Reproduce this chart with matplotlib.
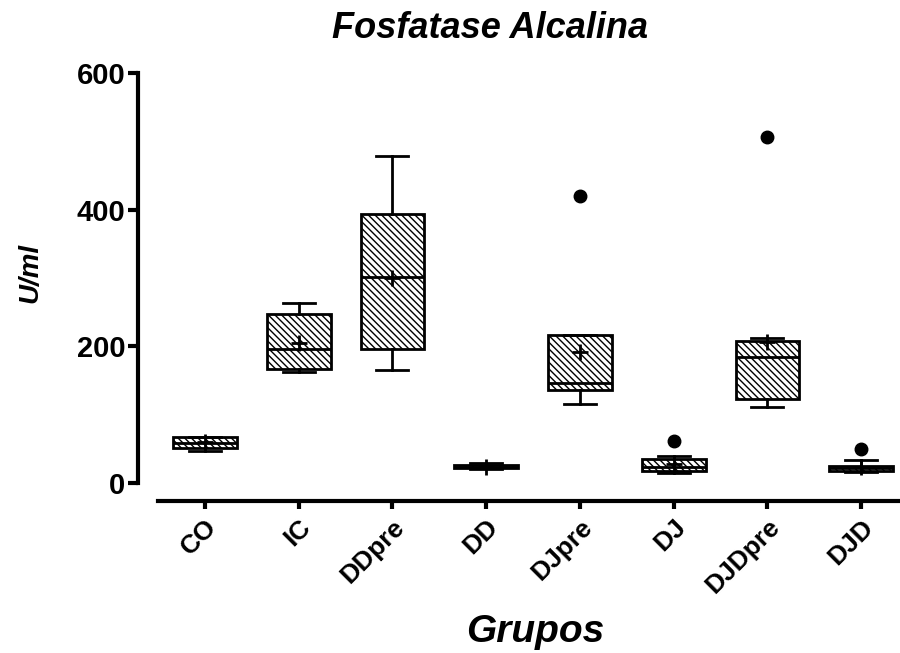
import numpy as np
import matplotlib
matplotlib.use('Agg')
import matplotlib.pyplot as plt

plt.rcParams['font.family'] = ['Liberation Sans', 'DejaVu Sans']
plt.rcParams['hatch.linewidth'] = 1.0

# valores (U/ml)
groups = ['CO', 'IC', 'DDpre', 'DD', 'DJpre', 'DJ', 'DJDpre', 'DJD']
whislo = [47, 163, 165, 20, 115, 15, 111, 16]
q1 = [51, 167, 196, 22, 136, 18, 123, 18]
med = [59, 196, 302, 24, 147, 24, 185, 22]
q3 = [67, 248, 393, 27, 217, 35, 208, 25]
whishi = [68, 263, 479, 29, 217, 39, 212, 34]
means = [60, 205, 300, 24, 192, 28, 207, 24]
fliers = [[], [], [], [], [420], [61], [506], [50]]

stats = []
for i, g in enumerate(groups):
    stats.append({'label': g, 'whislo': whislo[i], 'q1': q1[i], 'med': med[i],
                  'q3': q3[i], 'whishi': whishi[i], 'mean': means[i],
                  'fliers': np.array(fliers[i])})

fig = plt.figure(figsize=(9, 6.53), dpi=100)
ax = fig.add_axes([0.1756, 0.2328, 0.8333, 0.6554])

lw = 2.0
ax.bxp(stats, positions=np.arange(len(groups)), widths=0.68, capwidths=0.34,
       patch_artist=True, showmeans=True,
       boxprops=dict(facecolor='white', edgecolor='black', linewidth=lw, hatch='\\\\\\\\\\'),
       medianprops=dict(color='black', linewidth=lw),
       whiskerprops=dict(color='black', linewidth=lw),
       capprops=dict(color='black', linewidth=lw),
       meanprops=dict(marker='+', markeredgecolor='black', markersize=12, markeredgewidth=2),
       flierprops=dict(marker='o', markerfacecolor='black', markeredgecolor='black', markersize=9))

ax.set_xlim(-0.5, 7.5)
ax.set_ylim(-26.3, 600)

for s in ['top', 'right']:
    ax.spines[s].set_visible(False)
ax.spines['left'].set_position(('outward', 14.4))
ax.spines['left'].set_bounds(0, 600)
ax.spines['left'].set_linewidth(3)
ax.spines['bottom'].set_linewidth(3)

ax.set_yticks([0, 200, 400, 600])
ax.tick_params(axis='y', length=7, width=3, labelsize=21, pad=2)
ax.tick_params(axis='x', length=6, width=3, labelsize=19, pad=4)
ax.set_xticks(np.arange(len(groups)))
ax.set_xticklabels(groups, rotation=45, ha='right', va='top', rotation_mode='anchor',
                   fontweight='bold')
for lab in ax.get_yticklabels():
    lab.set_fontweight('bold')

fig.text(0.0333, 0.582, 'U/ml', fontsize=20, fontweight='bold', fontstyle='italic',
         rotation=90, ha='center', va='center')
fig.text(0.595, 0.032, 'Grupos', fontsize=28, fontweight='bold', fontstyle='italic',
         ha='center', va='center')
fig.text(0.545, 0.957, 'Fosfatase Alcalina', fontsize=26, fontweight='bold', fontstyle='italic',
         ha='center', va='center')

fig.savefig('out.png', dpi=100)
